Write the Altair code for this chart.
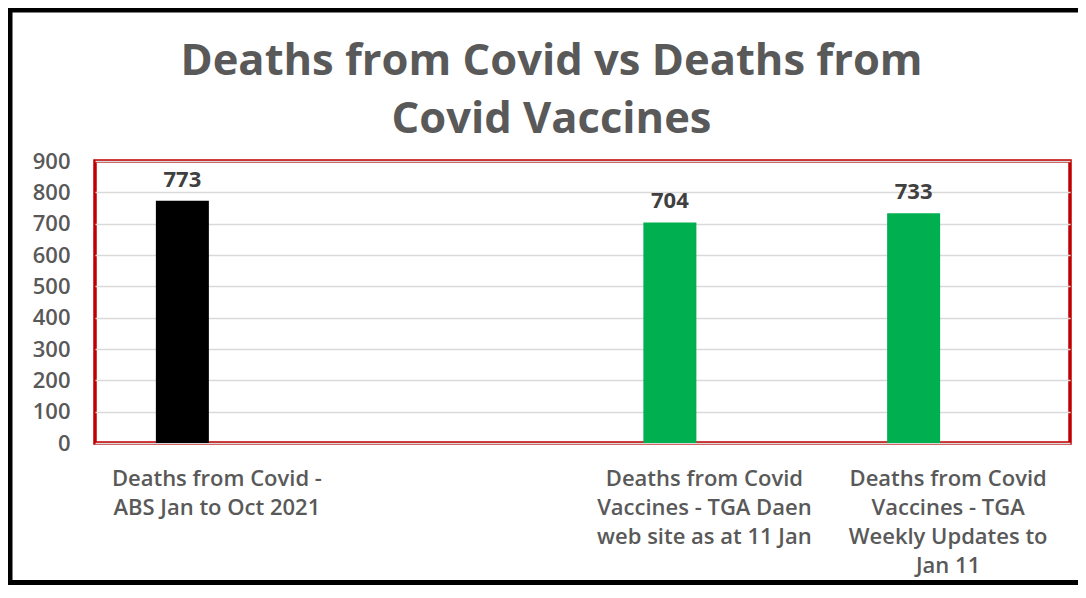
import altair as alt
import pandas as pd

categories = [
    "Deaths from Covid -|ABS Jan to Oct 2021",
    " ",
    "Deaths from Covid|Vaccines - TGA Daen|web site as at 11 Jan",
    "Deaths from Covid|Vaccines - TGA|Weekly Updates to|Jan 11",
]
deaths = [773, None, 704, 733]
bar_colors = ["#000000", "#ffffff", "#00B050", "#00B050"]
y_ticks = [0, 100, 200, 300, 400, 500, 600, 700, 800, 900]
title_lines = ["Deaths from Covid vs Deaths from", "Covid Vaccines"]

df = pd.DataFrame({"category": categories, "deaths": deaths})

TITLE_FONT = "Open Sans"
FONT = "Open Sans"
GREY = "#595959"

x_enc = alt.X(
    "category:N",
    scale=alt.Scale(domain=categories, paddingInner=0, paddingOuter=0),
    sort=None,
    axis=alt.Axis(
        title=None,
        labelAngle=0,
        labelAlign="center",
        labelExpr="split(datum.label, '|')",
        labelLineHeight=29.3,
        labelPadding=25,
        labelLimit=0,
        labelFont=FONT,
        labelFontSize=22,
        labelFontWeight=600,
        labelColor=GREY,
        ticks=False,
        tickSize=0,
        domain=False,
        grid=False,
    ),
)
y_enc = alt.Y(
    "deaths:Q",
    scale=alt.Scale(domain=[0, 900], nice=False),
    axis=alt.Axis(
        title=None,
        values=y_ticks,
        labelFont=FONT,
        labelFontSize=22,
        labelFontWeight=600,
        labelColor=GREY,
        labelPadding=25,
        ticks=False,
        tickSize=0,
        domain=False,
        grid=True,
        gridColor="#D9D9D9",
        gridWidth=1.5,
    ),
)

base = alt.Chart(df).transform_filter("isValid(datum.deaths)")

bars = base.mark_bar(size=53, xOffset=-34.5).encode(
    x=x_enc,
    y=y_enc,
    color=alt.Color(
        "category:N",
        scale=alt.Scale(domain=categories, range=bar_colors),
        legend=None,
    ),
)

labels = base.mark_text(
    xOffset=-34.5,
    dy=-9,
    baseline="bottom",
    font=FONT,
    fontSize=22,
    fontWeight="bold",
    color="#404040",
).encode(x=x_enc, y=y_enc, text=alt.Text("deaths:Q"))

frame_df = pd.DataFrame({"k": [0]})
frame_left = alt.Chart(frame_df).mark_rule(color="#000000", strokeWidth=5).encode(
    x=alt.value(-85), y=alt.value(-151), y2=alt.value(424)
)
frame_top = alt.Chart(frame_df).mark_rule(color="#000000", strokeWidth=5).encode(
    x=alt.value(-87), x2=alt.value(1100), y=alt.value(-151)
)
frame_bottom = alt.Chart(frame_df).mark_rule(color="#000000", strokeWidth=5).encode(
    x=alt.value(-87), x2=alt.value(1100), y=alt.value(421.5)
)

chart = (
    alt.layer(bars, labels, frame_left, frame_top, frame_bottom)
    .properties(
        width=975,
        height=282,
        autosize=alt.AutoSizeParams(type="none"),
        padding={"left": 87, "top": 153, "right": 8, "bottom": 142},
        title=alt.Title(
            text=title_lines,
            font=TITLE_FONT,
            fontSize=43.5,
            fontWeight="bold",
            color=GREY,
            lineHeight=58,
            anchor="middle",
            dx=-31,
            offset=-135,
        ),
    )
    .configure(background="#ffffff")
    .configure_view(stroke="#C00000", strokeWidth=3.5)
)

chart.save("out.html", embed_options={"renderer": "svg", "actions": False})
